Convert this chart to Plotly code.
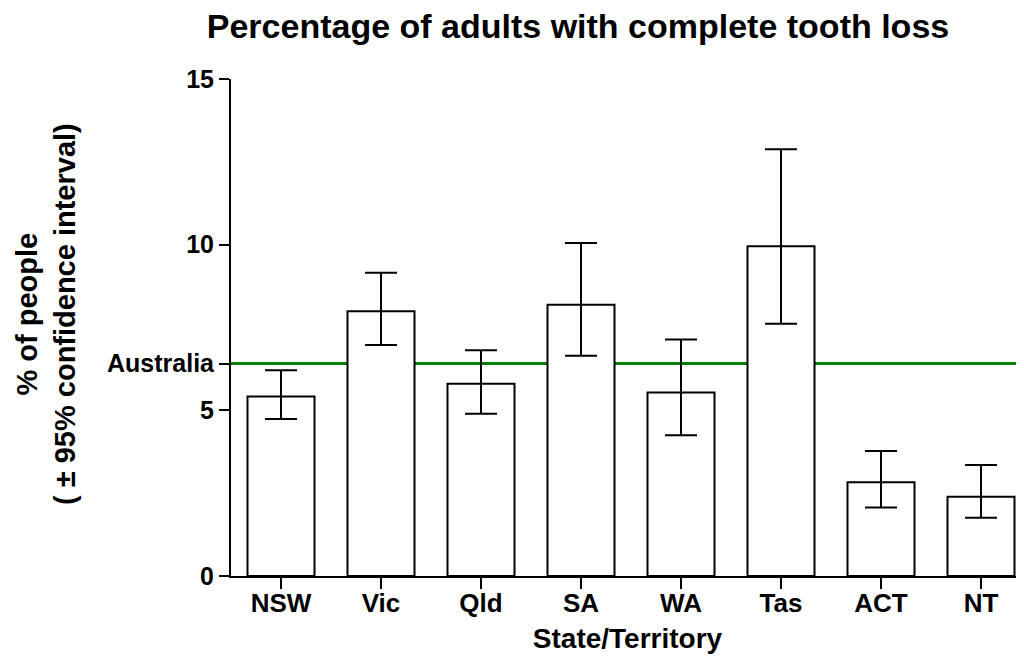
import plotly.graph_objects as go

categories = ["NSW", "Vic", "Qld", "SA", "WA", "Tas", "ACT", "NT"]
values = [5.42, 7.99, 5.80, 8.19, 5.54, 9.95, 2.83, 2.39]
upper = [6.21, 9.15, 6.81, 10.05, 7.14, 12.88, 3.77, 3.35]
lower = [4.74, 6.97, 4.90, 6.65, 4.25, 7.61, 2.07, 1.76]
australia = 6.41
y_tickvals = [0, 5, 10, 15]

err_plus = [u - v for u, v in zip(upper, values)]
err_minus = [v - l for v, l in zip(values, lower)]

FONT = "Liberation Sans, Arial, sans-serif"
OFF = 8  # default body margin of the page
W, H = 1024 - OFF, 658 - OFF

fig = go.Figure()
fig.add_trace(go.Bar(
    x=categories, y=values, width=0.67,
    marker=dict(color="white", line=dict(color="black", width=2)),
    error_y=dict(type="data", symmetric=False, array=err_plus, arrayminus=err_minus,
                 color="black", thickness=2, width=16),
    showlegend=False,
))

fig.add_shape(type="line", xref="paper", yref="y", x0=0, x1=1, y0=australia, y1=australia,
              line=dict(color="#008000", width=3), layer="below")

L, T, B = 231 - OFF, 79 - OFF, H - (576 - OFF)
fig.update_layout(
    width=W, height=H,
    margin=dict(l=L, r=0, t=T, b=B, autoexpand=False),
    plot_bgcolor="white", paper_bgcolor="white",
    font=dict(family=FONT, size=24, color="black"),
    title=dict(text="<b>Percentage of adults with complete tooth loss</b>",
               x=(578 - OFF) / W, xanchor="center", y=1 - (26 - OFF) / H, yanchor="middle",
               automargin=False,
               font=dict(family=FONT, size=34, color="black")),
    xaxis=dict(type="category", range=[-0.5, 7.43], showline=True, linecolor="black", linewidth=2,
               ticks="outside", ticklen=11, tickwidth=2, tickcolor="black",
               ticklabelstandoff=-8,
               tickfont=dict(family=FONT, size=26, color="black"),
               showgrid=False, zeroline=False, automargin=False,
               tickvals=categories, ticktext=["<b>%s</b>" % c for c in categories],
               title=dict(text="<b>State/Territory</b>", standoff=11,
                          font=dict(family=FONT, size=28, color="black"))),
    yaxis=dict(range=[0, 15], showline=True, linecolor="black", linewidth=2,
               ticks="outside", ticklen=10, tickwidth=2, tickcolor="black",
               showgrid=False, zeroline=False, automargin=False,
               tickvals=y_tickvals + [australia],
               ticktext=["<b>%d</b>" % v for v in y_tickvals] + ["<b>Australia</b>"],
               tickfont=dict(family=FONT, size=25, color="black")),
)

plot_w = W - L
plot_h = H - T - B
fig.add_annotation(
    text="<b>% of people<br>( ± 95% confidence interval)</b>",
    xref="paper", yref="paper", x=(46 - 231) / plot_w, y=(576 - 314) / plot_h,
    xanchor="center", yanchor="middle",
    textangle=-90, showarrow=False, font=dict(family=FONT, size=29, color="black"),
)

fig.write_html("out.html")
